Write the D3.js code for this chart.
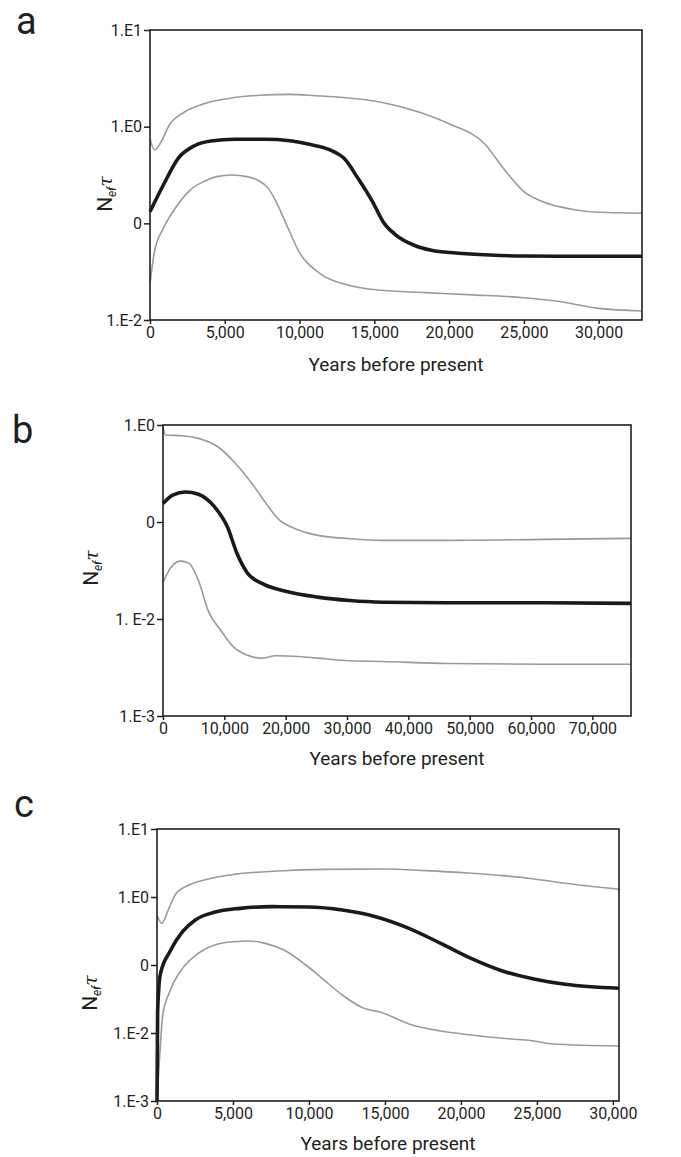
<!DOCTYPE html>
<html><head><meta charset="utf-8">
<script src="https://cdn.jsdelivr.net/npm/d3@7"></script>
<style>
html,body{margin:0;padding:0;background:#fff;}
svg{display:block;}
text{font-family:Roboto,"Open Sans",sans-serif;fill:#231f20;}
</style></head>
<body>
<svg id="chart" width="681" height="1157"></svg>
<script>
// ---------- DATA ----------
const panelLetters = ["a", "b", "c"];
const xAxisTitle = "Years before present";

// Panel a  (years, N_ef*tau)
const aMedian = [[0,0.132],[893,0.249],[1885,0.47],[2976,0.635],[4067,0.71],[5673,0.74],[7714,0.74],[9347,0.716],[10651,0.656],[12047,0.574],[12977,0.47],[13907,0.292],[14884,0.167],[15652,0.1],[16443,0.0757],[17628,0.0597],[18814,0.0526],[20455,0.0493],[22727,0.047],[25000,0.0459],[28191,0.0456],[32900,0.0456]];
const aUpper = [[0,0.757],[300,0.574],[694,0.673],[1290,1.04],[2282,1.41],[3671,1.74],[5265,1.96],[7306,2.11],[9347,2.16],[11116,2.09],[12977,2.0],[15455,1.79],[18024,1.41],[20000,1.07],[22386,0.662],[23636,0.37],[25000,0.213],[26277,0.167],[28191,0.14],[30000,0.13],[32900,0.127]];
const aLower = [[0,0.0239],[300,0.051],[893,0.0887],[1687,0.143],[2679,0.221],[3671,0.274],[4464,0.304],[5469,0.316],[6490,0.304],[7306,0.274],[7918,0.23],[8531,0.155],[9143,0.096],[9959,0.051],[11349,0.0304],[13209,0.023],[15257,0.0204],[18419,0.0192],[21591,0.0182],[25000,0.017],[27128,0.0157],[30000,0.0132],[32900,0.0124]];
const aYTicks = [10, 1, 0.1, 0.01];
const aYLabels = ["1.E1", "1.E0", "0", "1.E-2"];
const aXTicks = [0, 5000, 10000, 15000, 20000, 25000, 30000];

// Panel b
const bMedian = [[0,0.155],[1577,0.189],[3679,0.204],[5780,0.193],[8408,0.143],[10510,0.0887],[12086,0.047],[13663,0.0304],[16290,0.023],[19968,0.0193],[25223,0.0168],[30478,0.0155],[35733,0.0149],[46243,0.0147],[62007,0.0147],[76300,0.0145]];
const bUpper = [[0,0.96],[420,0.788],[3153,0.776],[5780,0.728],[8933,0.597],[11561,0.418],[14714,0.239],[16816,0.155],[18812,0.107],[21545,0.0853],[25223,0.0728],[30478,0.0673],[35733,0.0646],[46243,0.0646],[62007,0.0662],[76300,0.0678]];
const bLower = [[0,0.0239],[1314,0.0342],[2890,0.0395],[4204,0.0377],[5780,0.0249],[7357,0.0122],[9459,0.00757],[11561,0.00509],[13663,0.00425],[16027,0.00395],[18392,0.00418],[22070,0.00411],[25223,0.00395],[30478,0.00371],[35733,0.00365],[46243,0.00348],[62007,0.00342],[76300,0.00342]];
const bYTicks = [1, 0.1, 0.01, 0.001];
const bYLabels = ["1.E0", "0", "1. E-2", "1.E-3"];
const bXTicks = [0, 10000, 20000, 30000, 40000, 50000, 60000, 70000];

// Panel c
const cMedian = [[0,0.001],[40,0.02],[210,0.0713],[840,0.157],[1680,0.309],[2521,0.459],[3782,0.596],[5473,0.681],[7531,0.721],[10000,0.713],[12193,0.644],[14386,0.514],[16583,0.346],[18667,0.208],[20667,0.125],[22727,0.0817],[24793,0.0623],[26860,0.052],[30400,0.0454]];
const cUpper = [[0,0.543],[315,0.41],[735,0.644],[1261,1.13],[2101,1.5],[3361,1.84],[5062,2.15],[7942,2.41],[11053,2.55],[14912,2.58],[17739,2.44],[20682,2.23],[22748,2.06],[24814,1.84],[26860,1.59],[30400,1.3]];
const cLower = [[0,0.001],[168,0.00424],[378,0.0184],[840,0.0406],[1680,0.0893],[2731,0.149],[3782,0.197],[5062,0.22],[6091,0.225],[7119,0.208],[8354,0.166],[9794,0.1],[10864,0.0637],[12193,0.0362],[13509,0.0236],[14825,0.0199],[16583,0.0136],[18667,0.0107],[20667,0.00935],[22727,0.00835],[24793,0.00763],[26033,0.00689],[30400,0.00644]];
const cYTicks = [10, 1, 0.1, 0.01, 0.001];
const cYLabels = ["1.E1", "1.E0", "0", "1.E-2", "1.E-3"];
const cXTicks = [0, 5000, 10000, 15000, 20000, 25000, 30000];

// ---------- LAYOUT ----------
const panels = [
  {letter: panelLetters[0], lx: 16, ly: 34, left: 150, right: 642, top: 30, bottom: 320, xMax: 32900, yMin: 0.01, yMax: 10,
   yTicks: aYTicks, yLabels: aYLabels, xTicks: aXTicks, med: aMedian, up: aUpper, lo: aLower, titleY: 371, ylabX: 112, ylabY: 194},
  {letter: panelLetters[1], lx: 12, ly: 443, left: 163, right: 631, top: 425, bottom: 716, xMax: 76300, yMin: 0.001, yMax: 1,
   yTicks: bYTicks, yLabels: bYLabels, xTicks: bXTicks, med: bMedian, up: bUpper, lo: bLower, titleY: 765, ylabX: 98, ylabY: 568},
  {letter: panelLetters[2], lx: 14, ly: 817, left: 157, right: 619, top: 829, bottom: 1101, xMax: 30400, yMin: 0.001, yMax: 10,
   yTicks: cYTicks, yLabels: cYLabels, xTicks: cXTicks, med: cMedian, up: cUpper, lo: cLower, titleY: 1150, ylabX: 97, ylabY: 993}
];

const svg = d3.select("#chart");
const fmt = d3.format(",");

panels.forEach(p => {
  const x = d3.scaleLinear().domain([0, p.xMax]).range([p.left, p.right]);
  const y = d3.scaleLog().domain([p.yMin, p.yMax]).range([p.bottom, p.top]);
  const g = svg.append("g");

  // panel letter
  g.append("text").attr("x", p.lx).attr("y", p.ly).attr("font-size", 38).text(p.letter);

  // lines
  const line = d3.line().x(d => x(d[0])).y(d => y(d[1])).curve(d3.curveMonotoneX);
  [[p.up, "#9a9a9a", 1.6], [p.lo, "#9a9a9a", 1.6], [p.med, "#1a1a1a", 3.6]].forEach(([data, col, w]) => {
    g.append("path").datum(data).attr("d", line).attr("fill", "none")
      .attr("stroke", col).attr("stroke-width", w).attr("stroke-linejoin", "round");
  });

  // frame
  g.append("rect").attr("x", p.left).attr("y", p.top).attr("width", p.right - p.left).attr("height", p.bottom - p.top)
    .attr("fill", "none").attr("stroke", "#231f20").attr("stroke-width", 1.6);

  // axes
  const xAxis = d3.axisBottom(x).tickValues(p.xTicks).tickFormat(d => fmt(d)).tickSize(4).tickPadding(3);
  const gx = g.append("g").attr("transform", `translate(0,${p.bottom})`).call(xAxis);
  const yAxis = d3.axisLeft(y).tickValues(p.yTicks).tickFormat((d, i) => p.yLabels[i]).tickSize(6).tickPadding(2);
  const gy = g.append("g").attr("transform", `translate(${p.left},0)`).call(yAxis);
  [gx, gy].forEach(a => {
    a.select(".domain").remove();
    a.selectAll(".tick line").attr("stroke", "#231f20").attr("stroke-width", 1.5);
    a.selectAll(".tick text").attr("font-size", 16).attr("font-family", "Roboto").attr("fill", "#231f20");
  });

  // x title
  g.append("text").attr("x", (p.left + p.right) / 2).attr("y", p.titleY).attr("text-anchor", "middle")
    .attr("font-size", 19).text(xAxisTitle);

  // y title
  const yt = g.append("text").attr("transform", `translate(${p.ylabX},${p.ylabY}) rotate(-90)`)
    .attr("text-anchor", "middle").attr("font-size", 21);
  yt.append("tspan").text("N");
  yt.append("tspan").attr("font-size", 12).attr("font-style", "italic").attr("dy", 4).text("ef");
  yt.append("tspan").attr("font-style", "italic").attr("font-family", "DejaVu Serif").attr("font-size", 19).attr("dy", -4).text("τ");
});
</script>
</body></html>
